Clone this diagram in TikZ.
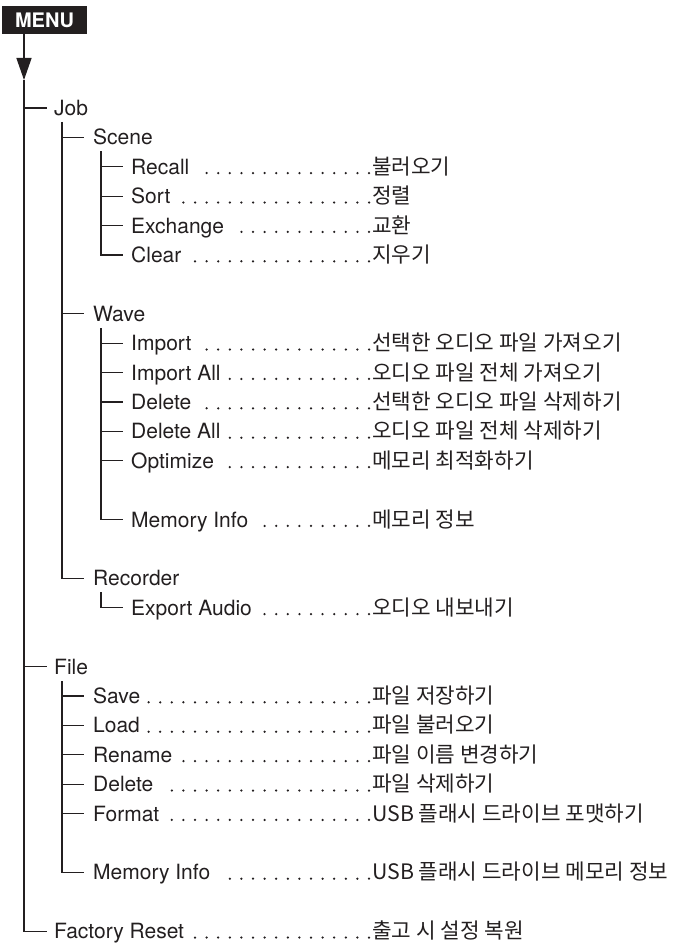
\documentclass[tikz,border=0pt]{standalone}
\usepackage{fontspec}
\setmainfont{TeX Gyre Heros}
\newfontfamily\kofont{Noto Sans CJK KR}
\usetikzlibrary{arrows.meta}
\definecolor{inkblack}{RGB}{35,31,32}
\newcommand{\ensize}{\fontsize{21}{25}\selectfont}
\newcommand{\kosize}{\kofont\fontsize{21.3}{25}\selectfont}

\begin{document}
\begin{tikzpicture}[
  x=1pt, y=-1pt,
  item/.style={anchor=west, inner sep=0pt, text height=15.1pt, text depth=0pt, font=\ensize, text=inkblack},
  ko/.style={anchor=west, inner sep=0pt, text height=15.1pt, text depth=0pt, font=\kosize, text=inkblack},
  tree/.style={line width=1.3pt, draw=inkblack},
  lead/.style={line width=2.5pt, draw=inkblack, line cap=round, dash pattern=on 0pt off 11.6pt,
    shorten >=8pt, transform canvas={yshift=-6.3pt}},
  menubox/.style={fill=inkblack, text=white, font=\bfseries\fontsize{20}{23}\selectfont,
    minimum width=85pt, minimum height=28pt, inner sep=0pt},
  arr/.style={tree, -{Triangle[length=22pt, width=15pt]}}
]
\useasboundingbox (0,0) rectangle (675,947);
% ---- nodes ------------------------------------------------------------------
\node[menubox] (menu) at (44.5,20) {MENU};
\coordinate (tip) at (24,80);

\node[item] (job) at (54,108) {Job};
\node[item] (scene) at (93,137.4) {Scene};
\node[item] (recall) at (131,166.8) {Recall};
\node[item] (sort) at (131,196.2) {Sort};
\node[item] (exchange) at (131,225.6) {Exchange};
\node[item] (clear) at (131,255) {Clear};

\node[item] (wave) at (93,313.8) {Wave};
\node[item] (import) at (131,343.2) {Import};
\node[item] (importall) at (131,372.6) {Import All};
\node[item] (wdelete) at (131,402) {Delete};
\node[item] (deleteall) at (131,431.4) {Delete All};
\node[item] (optimize) at (131,460.8) {Optimize};
\node[item] (wmem) at (131,519.6) {Memory Info};

\node[item] (recorder) at (93,578.4) {Recorder};
\node[item] (export) at (131,607.8) {Export Audio};

\node[item] (file) at (54,666.6) {File};
\node[item] (save) at (93,696) {Save};
\node[item] (load) at (93,725.4) {Load};
\node[item] (rename) at (93,754.8) {Rename};
\node[item] (fdelete) at (93,784.2) {Delete};
\node[item] (format) at (93,813.6) {Format};
\node[item] (fmem) at (93,872.4) {Memory Info};

\node[item] (reset) at (54,931.2) {Factory Reset};

% ---- korean column ----------------------------------------------------------
\node[ko] (recall-ko) at (372,166.8) {불러오기};
\node[ko] (sort-ko) at (372,196.2) {정렬};
\node[ko] (exchange-ko) at (372,225.6) {교환};
\node[ko] (clear-ko) at (372,255) {지우기};
\node[ko] (import-ko) at (372,343.2) {선택한 오디오 파일 가져오기};
\node[ko] (importall-ko) at (372,372.6) {오디오 파일 전체 가져오기};
\node[ko] (wdelete-ko) at (372,402) {선택한 오디오 파일 삭제하기};
\node[ko] (deleteall-ko) at (372,431.4) {오디오 파일 전체 삭제하기};
\node[ko] (optimize-ko) at (372,460.8) {메모리 최적화하기};
\node[ko] (wmem-ko) at (372,519.6) {메모리 정보};
\node[ko] (export-ko) at (372,607.8) {오디오 내보내기};
\node[ko] (save-ko) at (372,696) {파일 저장하기};
\node[ko] (load-ko) at (372,725.4) {파일 불러오기};
\node[ko] (rename-ko) at (372,754.8) {파일 이름 변경하기};
\node[ko] (fdelete-ko) at (372,784.2) {파일 삭제하기};
\node[ko] (format-ko) at (372,813.6) {USB 플래시 드라이브 포맷하기};
\node[ko] (fmem-ko) at (372,872.4) {USB 플래시 드라이브 메모리 정보};
\node[ko] (reset-ko) at (372,931.2) {출고 시 설정 복원};

% ---- tree -------------------------------------------------------------------
\draw[arr] (menu.south -| tip) -- (tip);
\draw[tree] (tip) |- ([xshift=-7pt]reset.west);
\draw[tree] (job.west -| tip) -- ([xshift=-7pt]job.west);
\draw[tree] (file.west -| tip) -- ([xshift=-7pt]file.west);

\coordinate (jobbar) at (62,122);
\draw[tree] (jobbar) |- ([xshift=-9pt]recorder.west);
\draw[tree] (scene.west -| jobbar) -- ([xshift=-9pt]scene.west);
\draw[tree] (wave.west -| jobbar) -- ([xshift=-9pt]wave.west);

\coordinate (scenebar) at (101,151);
\draw[tree] (scenebar) |- ([xshift=-8pt]clear.west);
\draw[tree] (recall.west -| scenebar) -- ([xshift=-8pt]recall.west);
\draw[tree] (sort.west -| scenebar) -- ([xshift=-8pt]sort.west);
\draw[tree] (exchange.west -| scenebar) -- ([xshift=-8pt]exchange.west);

\coordinate (wavebar) at (101,328);
\draw[tree] (wavebar) |- ([xshift=-8pt]wmem.west);
\draw[tree] (import.west -| wavebar) -- ([xshift=-8pt]import.west);
\draw[tree] (importall.west -| wavebar) -- ([xshift=-8pt]importall.west);
\draw[tree] (wdelete.west -| wavebar) -- ([xshift=-8pt]wdelete.west);
\draw[tree] (deleteall.west -| wavebar) -- ([xshift=-8pt]deleteall.west);
\draw[tree] (optimize.west -| wavebar) -- ([xshift=-8pt]optimize.west);

\coordinate (recbar) at (101,592);
\draw[tree] (recbar) |- ([xshift=-8pt]export.west);

\coordinate (filebar) at (62,681);
\draw[tree] (filebar) |- ([xshift=-9pt]fmem.west);
\draw[tree] (save.west -| filebar) -- ([xshift=-9pt]save.west);
\draw[tree] (load.west -| filebar) -- ([xshift=-9pt]load.west);
\draw[tree] (rename.west -| filebar) -- ([xshift=-9pt]rename.west);
\draw[tree] (fdelete.west -| filebar) -- ([xshift=-9pt]fdelete.west);
\draw[tree] (format.west -| filebar) -- ([xshift=-9pt]format.west);

% ---- leaders ----------------------------------------------------------------
\draw[lead] ([xshift=-3pt]recall-ko.west) -- (recall.east);
\draw[lead] ([xshift=-3pt]sort-ko.west) -- (sort.east);
\draw[lead] ([xshift=-3pt]exchange-ko.west) -- (exchange.east);
\draw[lead] ([xshift=-3pt]clear-ko.west) -- (clear.east);
\draw[lead] ([xshift=-3pt]import-ko.west) -- (import.east);
\draw[lead] ([xshift=-3pt]importall-ko.west) -- (importall.east);
\draw[lead] ([xshift=-3pt]wdelete-ko.west) -- (wdelete.east);
\draw[lead] ([xshift=-3pt]deleteall-ko.west) -- (deleteall.east);
\draw[lead] ([xshift=-3pt]optimize-ko.west) -- (optimize.east);
\draw[lead] ([xshift=-3pt]wmem-ko.west) -- (wmem.east);
\draw[lead] ([xshift=-3pt]export-ko.west) -- (export.east);
\draw[lead] ([xshift=-3pt]save-ko.west) -- (save.east);
\draw[lead] ([xshift=-3pt]load-ko.west) -- (load.east);
\draw[lead] ([xshift=-3pt]rename-ko.west) -- (rename.east);
\draw[lead] ([xshift=-3pt]fdelete-ko.west) -- (fdelete.east);
\draw[lead] ([xshift=-3pt]format-ko.west) -- (format.east);
\draw[lead] ([xshift=-3pt]fmem-ko.west) -- (fmem.east);
\draw[lead] ([xshift=-3pt]reset-ko.west) -- (reset.east);
\end{tikzpicture}
\end{document}
